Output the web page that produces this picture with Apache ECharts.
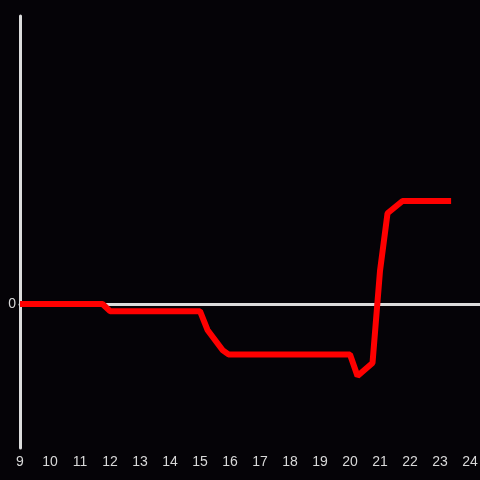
<!DOCTYPE html>
<html>
<head>
<meta charset="utf-8">
<script src="https://cdn.jsdelivr.net/npm/echarts@6/dist/echarts.min.js"></script>
<style>
  html, body { margin: 0; padding: 0; background: #050307; }
  #chart { width: 480px; height: 480px; }
</style>
</head>
<body>
<div id="chart"></div>
<script>
// hour of day, value
const hours = [9, 11.75, 12, 15, 15.25, 15.75, 15.95, 20, 20.25, 20.75, 21, 21.25, 21.75, 23.37];
const values = [0, 0, -5, -5, -18, -32, -35, -35, -50, -41, 23, 63, 71.5, 71.5];
const xTicks = [9, 24];

let myChart = echarts.init(document.getElementById('chart'));
let axisColor = '#dcdcdc';
let option = {
  backgroundColor: '#050307',
  animation: false,
  grid: { left: 20, right: 0, top: 16, bottom: 32, outerBoundsMode: 'none' },
  xAxis: [
    {
      type: 'value',
      min: xTicks[0],
      max: 24.333,
      interval: 1,
      position: 'bottom',
      axisLine: { show: false, onZero: false },
      axisTick: { show: false },
      splitLine: { show: false },
      axisLabel: {
        color: '#d8d8d8',
        fontSize: 14,
        margin: 7,
        formatter: function (v) { return v <= xTicks[1] ? String(v) : ''; }
      }
    },
    {
      // baseline drawn at y = 0
      type: 'value',
      min: xTicks[0],
      max: 24.333,
      interval: 1,
      axisLine: { show: true, onZero: true, lineStyle: { color: axisColor, width: 3 } },
      axisTick: { show: false },
      axisLabel: { show: false },
      splitLine: { show: false }
    }
  ],
  yAxis: {
    type: 'value',
    min: -100,
    max: 200,
    interval: 100,
    axisLine: { show: true, lineStyle: { color: axisColor, width: 3 } },
    axisTick: { show: false },
    splitLine: { show: false },
    axisLabel: {
      color: '#d8d8d8',
      fontSize: 14,
      margin: 4,
      formatter: function (v) { return v === 0 ? '0' : ''; }
    }
  },
  series: [
    {
      type: 'line',
      xAxisIndex: 0,
      data: hours.map(function (h, i) { return [h, values[i]]; }),
      showSymbol: false,
      lineStyle: { color: '#ff0000', width: 6 },
      z: 5
    }
  ]
};
myChart.setOption(option);
</script>
</body>
</html>
